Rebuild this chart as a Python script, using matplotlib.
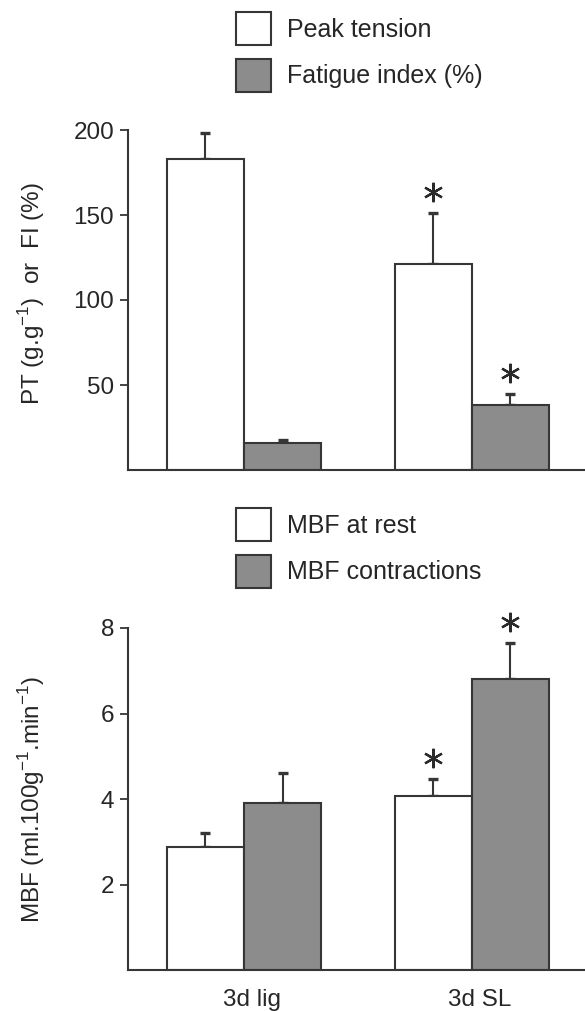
import matplotlib
matplotlib.use("Agg")
import matplotlib.pyplot as plt
import matplotlib.transforms as mtransforms
from matplotlib.patches import Patch
import numpy as np

plt.rcParams['font.family'] = ['Liberation Sans', 'DejaVu Sans']

groups = ["3d lig", "3d SL"]

# Top panel
pt_labels = ["Peak tension", "Fatigue index (%)"]
peak_tension = [183, 121]
peak_tension_err = [15, 30]
fatigue_index = [16, 38]
fatigue_index_err = [1.5, 7]
top_sig = [[False, True], [False, True]]
top_yticks = [50, 100, 150, 200]

# Bottom panel
mbf_labels = ["MBF at rest", "MBF contractions"]
mbf_rest = [2.88, 4.07]
mbf_rest_err = [0.33, 0.40]
mbf_contr = [3.91, 6.80]
mbf_contr_err = [0.70, 0.85]
bot_sig = [[False, True], [False, True]]
bot_yticks = [2, 4, 6, 8]

W, H = 585, 1011
fig = plt.figure(figsize=(W / 100, H / 100), dpi=100)

EDGE = "#363636"
GRAY = "#8c8c8c"
TXT = "#262626"
FS = 17.5
LFS = 18
bw = 0.338
x = np.arange(len(groups))


def px_axes(left, top, right, bottom):
    return fig.add_axes([left / W, 1 - bottom / H, (right - left) / W, (bottom - top) / H])


def draw(ax, s1, e1, s2, e2, sig, ymax, yticks, ylabel, labels, leg_top, show_x, ylab_y):
    star_tr = mtransforms.offset_copy(ax.transData, fig=fig, x=0, y=21, units="dots")
    for vals, errs, fc, off, sg in [(s1, e1, "white", -bw / 2, sig[0]), (s2, e2, GRAY, bw / 2, sig[1])]:
        ax.bar(x + off, vals, width=bw, color=fc, edgecolor=EDGE, linewidth=1.5, zorder=2)
        ax.errorbar(x + off, vals, yerr=[np.zeros(len(vals)), errs], fmt="none",
                    ecolor=EDGE, elinewidth=1.5, capsize=3.6, capthick=2.4, zorder=1)
        for xi, v, e, s in zip(x + off, vals, errs, sg):
            if s:
                ax.plot([xi], [v + e], marker=(6, 2, 0), markersize=14, mew=1.6,
                        color="#2a2a2a", transform=star_tr, clip_on=False, zorder=3)
    ax.set_xlim(-0.509, 1.496)
    ax.set_ylim(0, ymax)
    ax.set_yticks(yticks)
    ax.set_yticklabels([str(t) for t in yticks], fontsize=FS, color=TXT)
    ax.tick_params(axis="y", length=5.5, width=1.3, color=EDGE, pad=4.5)
    ax.tick_params(axis="x", length=0, pad=14)
    ax.set_xticks(x + 0.035)
    if show_x:
        ax.set_xticklabels(groups, fontsize=FS, color=TXT)
    else:
        ax.set_xticklabels([])
    for s in ["top", "right"]:
        ax.spines[s].set_visible(False)
    for s in ["left", "bottom"]:
        ax.spines[s].set_color(EDGE)
        ax.spines[s].set_linewidth(1.5)
    ax.set_ylabel(ylabel, fontsize=FS, color=TXT)
    ax.yaxis.set_label_coords(-0.178, ylab_y)
    handles = [Patch(facecolor="white", edgecolor=EDGE, linewidth=1.5),
               Patch(facecolor=GRAY, edgecolor=EDGE, linewidth=1.5)]
    fig.legend(handles, labels, loc="upper left", bbox_to_anchor=(236 / W, 1 - leg_top / H),
               bbox_transform=fig.transFigure, frameon=False, borderpad=0, borderaxespad=0,
               fontsize=LFS, handlelength=1.38, handleheight=1.65, labelspacing=0.55,
               handletextpad=0.65, labelcolor=TXT)


ax1 = px_axes(128, 130, 585, 470)
draw(ax1, peak_tension, peak_tension_err, fatigue_index, fatigue_index_err, top_sig,
     200, top_yticks, "PT (g.g$^{\\mathregular{-1}}$)  or  FI (%)", pt_labels, 12, False, 0.52)

ax2 = px_axes(128, 628, 585, 970)
draw(ax2, mbf_rest, mbf_rest_err, mbf_contr, mbf_contr_err, bot_sig,
     8, bot_yticks, "MBF (ml.100g$^{\\mathregular{-1}}$.min$^{\\mathregular{-1}}$)", mbf_labels, 508, True, 0.5)

fig.savefig("out.png", dpi=100)
